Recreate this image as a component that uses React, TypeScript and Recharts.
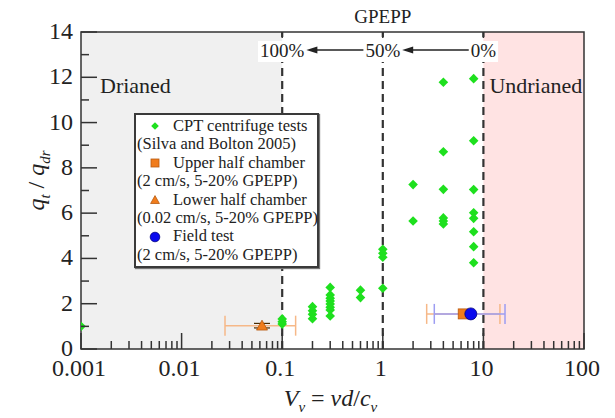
import React from 'react';
import {
  ScatterChart, Scatter, XAxis, YAxis, ReferenceArea, ReferenceLine, ErrorBar, Legend
} from 'recharts';

const FONT = '"Liberation Serif", "Times New Roman", serif';
const INK = '#222';

// axes
const xMajorTicks = [0.001, 0.01, 0.1, 1, 10, 100];
const xTickLabels = ['0.001', '0.01', '0.1', '1', '10', '100'];
const xMinorSteps = [2, 3, 4, 5, 6, 7, 8, 9];
const yTicks = [0, 1, 2, 3, 4, 5, 6, 7, 8, 9, 10, 11, 12, 13, 14];

// GPEPP scale on top
const gpeppTicks = [0.1, 1, 10];
const gpeppLabels = ['100%', '50%', '0%'];

// CPT centrifuge tests (Silva and Bolton 2005)
const cptV = [
  0.001,
  0.1, 0.1, 0.1,
  0.2, 0.2, 0.2, 0.2,
  0.3, 0.3, 0.3, 0.3, 0.3, 0.3, 0.3, 0.3,
  0.6, 0.6,
  1, 1, 1, 1,
  2, 2,
  4, 4, 4, 4, 4, 4,
  8, 8, 8, 8, 8, 8, 8, 8,
];
const cptQ = [
  1.0,
  1.1, 1.2, 1.33,
  1.87, 1.69, 1.53, 1.34,
  2.72, 2.39, 2.24, 2.12, 1.99, 1.84, 1.72, 1.46,
  2.6, 2.27,
  4.4, 4.23, 4.05, 2.68,
  7.26, 5.65,
  11.78, 8.71, 7.05, 5.79, 5.65, 5.52,
  11.94, 9.2, 7.04, 6.02, 5.77, 5.18, 4.52, 3.81,
];

// chamber and field tests: value, q, x-range
const upperV = [6.3];
const upperQ = [1.55];
const upperRange = [[2.73, 14.6]];

const lowerV = [0.063];
const lowerQ = [1.03];
const lowerRange = [[0.027, 0.136]];
const lowerQErr = [0.1];

const fieldV = [7.5];
const fieldQ = [1.55];
const fieldRange = [[3.25, 16.4]];

const legendNames = ['CPT centrifuge tests', 'Upper half chamber', 'Lower half chamber', 'Field test'];
const legendNotes = ['(Silva and Bolton 2005)', '(2 cm/s, 5-20% GPEPP)', '(0.02 cm/s, 5-20% GPEPP)', '(2 cm/s, 5-20% GPEPP)'];
const legendKinds = ['diamond', 'square', 'triangle', 'circle'];

const GREEN = '#1ee01e';
const ORANGE = '#f07c1c';
const BLUE = '#0a0aee';

const cptData = cptV.map((v, i) => ({ v, q: cptQ[i] }));
const upperData = upperV.map((v, i) => ({ v, q: upperQ[i], err: [v - upperRange[i][0], upperRange[i][1] - v] }));
const lowerData = lowerV.map((v, i) => ({
  v, q: lowerQ[i], err: [v - lowerRange[i][0], lowerRange[i][1] - v], qErr: lowerQErr[i],
}));
const fieldData = fieldV.map((v, i) => ({ v, q: fieldQ[i], err: [v - fieldRange[i][0], fieldRange[i][1] - v] }));

const xTicks = xMajorTicks.slice(0, -1)
  .flatMap((d) => [d, ...xMinorSteps.map((m) => m * d)])
  .concat(xMajorTicks[xMajorTicks.length - 1]);

const Marker = ({ kind, cx, cy, s = 1 }: any) => {
  if (kind === 'diamond') {
    const r = 4.8 * s;
    return <polygon points={`${cx},${cy - r} ${cx + r},${cy} ${cx},${cy + r} ${cx - r},${cy}`} fill={GREEN} />;
  }
  if (kind === 'square') {
    const h = 5 * s;
    return <rect x={cx - h} y={cy - h} width={2 * h} height={2 * h} fill={ORANGE} stroke="#b85a10" strokeWidth={0.8} />;
  }
  if (kind === 'triangle') {
    const h = 5.5 * s;
    return <polygon points={`${cx},${cy - h} ${cx + h},${cy + h * 0.8} ${cx - h},${cy + h * 0.8}`} fill={ORANGE} stroke="#b85a10" strokeWidth={0.8} />;
  }
  return <circle cx={cx} cy={cy} r={6 * s} fill={BLUE} stroke="#000080" strokeWidth={0.8} />;
};

const XTick = ({ x, y, payload }: any) => {
  const idx = xMajorTicks.indexOf(payload.value);
  const major = idx >= 0;
  return (
    <g>
      <line x1={x} y1={y} x2={x} y2={y - (major ? 16 : 8)} stroke="#333" strokeWidth={1.5} />
      {major && (
        <text x={x - 2} y={y + 27} textAnchor="middle" fontSize={24} fill={INK} fontFamily={FONT}>
          {xTickLabels[idx]}
        </text>
      )}
    </g>
  );
};

const YTick = ({ x, y, payload }: any) => {
  const major = payload.value % 2 === 0;
  return (
    <g>
      <line x1={x} y1={y} x2={x + (major ? 16 : 8)} y2={y} stroke="#333" strokeWidth={1.5} />
      {major && (
        <text x={x - 8} y={y + 7} textAnchor="end" fontSize={24} fill={INK} fontFamily={FONT}>
          {payload.value}
        </text>
      )}
    </g>
  );
};

const labelWidth = (s: string) => s.replace('%', '').length * 9.5 + 15.8;

// top GPEPP tick, label and title drawn on each dashed line
const gpeppMark = (idx: number) => ({ viewBox }: any) => {
  const x = viewBox.x;
  const y = viewBox.y;
  const label = gpeppLabels[idx];
  const w = labelWidth(label);
  return (
    <g>
      <line x1={x} y1={y} x2={x} y2={y + 6} stroke="#333" strokeWidth={1.5} />
      <rect x={x - w / 2 - 2} y={y + 9} width={w + 4} height={21} fill="#fff" />
      <text x={x} y={y + 25} textAnchor="middle" fontSize={19} fill={INK} fontFamily={FONT}>{label}</text>
      {idx === 1 && (
        <text x={x} y={y - 9} textAnchor="middle" fontSize={19} fill={INK} fontFamily={FONT}>GPEPP</text>
      )}
    </g>
  );
};

// arrow between two GPEPP labels, trimmed to the label edges
const makeArrow = (fromLabel: string, toLabel: string) => (props: any) => {
  const { x1, y1, x2 } = props;
  const yy = y1 + 18;
  const start = x1 - labelWidth(fromLabel) / 2 - 2;
  const tip = x2 + labelWidth(toLabel) / 2 + 2;
  return (
    <g>
      <line x1={start} y1={yy} x2={tip + 9} y2={yy} stroke={INK} strokeWidth={1.3} />
      <polygon points={`${tip},${yy} ${tip + 11},${yy - 3.5} ${tip + 11},${yy + 3.5}`} fill={INK} />
    </g>
  );
};

const regionLabel = (text: string, dx: number) => ({ viewBox }: any) => (
  <text x={viewBox.x + dx} y={viewBox.y + 61} fontSize={22} fill={INK} fontFamily={FONT}>{text}</text>
);

const XLabel = ({ viewBox }: any) => (
  <text x={viewBox.x + viewBox.width / 2 - 2} y={viewBox.y + 57} textAnchor="middle" fontSize={24} fill={INK} fontFamily={FONT}>
    <tspan fontStyle="italic">V</tspan>
    <tspan fontStyle="italic" fontSize={15} dy={6}>v</tspan>
    <tspan dy={-6}> = </tspan>
    <tspan fontStyle="italic">vd</tspan>
    <tspan>/</tspan>
    <tspan fontStyle="italic">c</tspan>
    <tspan fontStyle="italic" fontSize={15} dy={6}>v</tspan>
  </text>
);

const YLabel = ({ viewBox }: any) => (
  <text
    transform={`translate(${viewBox.x + 23}, ${viewBox.y + viewBox.height / 2 - 10}) rotate(-90)`}
    textAnchor="middle" fontSize={24} fill={INK} fontFamily={FONT}
  >
    <tspan fontStyle="italic">q</tspan>
    <tspan fontStyle="italic" fontSize={15} dy={6}>t</tspan>
    <tspan dy={-6}> / </tspan>
    <tspan fontStyle="italic">q</tspan>
    <tspan fontStyle="italic" fontSize={15} dy={6}>dr</tspan>
  </text>
);

const LegendBox = () => (
  <div
    style={{
      border: '2px solid #3a3a3a', boxShadow: '1px 1px 1px #777', background: '#fff',
      fontFamily: FONT, fontSize: 16.5, lineHeight: '18.4px', color: INK,
      padding: '2px 2px 2px 1px', whiteSpace: 'nowrap', width: 185, minWidth: 185, boxSizing: 'border-box',
    }}
  >
    {legendNames.map((name, i) => (
      <div key={name}>
        <div style={{ display: 'flex', alignItems: 'center' }}>
          <svg width={36} height={18} style={{ flex: 'none' }}>
            <Marker kind={legendKinds[i]} cx={18} cy={9} s={0.8} />
          </svg>
          <span>{name}</span>
        </div>
        <div>{legendNotes[i]}</div>
      </div>
    ))}
  </div>
);

export default function App() {
  return (
    <div style={{ margin: '-8px 0 0 -8px', width: 615, height: 418 }}>
      <ScatterChart
        width={615}
        height={418}
        margin={{ top: 32, right: 31, bottom: 19, left: 21 }}
        style={{ fontFamily: FONT }}
      >
        <ReferenceArea x1={0.001} x2={0.1} y1={0} y2={14} fill="#f0f0f0" fillOpacity={1} stroke="none"
          label={{ content: regionLabel('Drianed', 19) }} />
        <ReferenceArea x1={10} x2={100} y1={0} y2={14} fill="#ffe3e3" fillOpacity={1} stroke="none"
          label={{ content: regionLabel('Undrianed', 6) }} />
        {gpeppTicks.map((t, i) => (
          <ReferenceLine key={t} x={t} stroke="#333" strokeWidth={2.2} strokeDasharray="8 5"
            label={{ content: gpeppMark(i) }} />
        ))}
        <ReferenceArea x1={0.001} x2={100} y1={0} y2={14} fill="none" stroke="#333" strokeWidth={1.5} />
        <XAxis
          dataKey="v" type="number" scale="log" domain={[0.001, 100]} ticks={xTicks} interval={0}
          allowDataOverflow height={50} axisLine={false} tickLine={false} tickSize={0} tickMargin={0}
          tick={<XTick />} label={{ content: XLabel }}
        />
        <YAxis
          dataKey="q" type="number" domain={[0, 14]} ticks={yTicks} interval={0} allowDataOverflow
          width={60} axisLine={false} tickLine={false} tickSize={0} tickMargin={0}
          tick={<YTick />} label={{ content: YLabel }}
        />
        {gpeppTicks.slice(1).map((t, i) => (
          <ReferenceLine
            key={`arrow-${t}`}
            segment={[{ x: t, y: 14 }, { x: gpeppTicks[i], y: 14 }]}
            shape={makeArrow(gpeppLabels[i + 1], gpeppLabels[i])}
          />
        ))}
        <Scatter name={legendNames[0]} data={cptData} isAnimationActive={false}
          shape={(p: any) => <Marker kind="diamond" cx={p.cx} cy={p.cy} />} />
        <Scatter name={legendNames[1]} data={upperData} isAnimationActive={false}
          shape={(p: any) => <Marker kind="square" cx={p.cx} cy={p.cy} />}>
          <ErrorBar dataKey="err" direction="x" width={10} stroke="#f6b888" strokeWidth={1.5} />
        </Scatter>
        <Scatter name={legendNames[2]} data={lowerData} isAnimationActive={false}
          shape={(p: any) => <Marker kind="triangle" cx={p.cx} cy={p.cy} />}>
          <ErrorBar dataKey="err" direction="x" width={10} stroke="#f6b888" strokeWidth={1.5} />
          <ErrorBar dataKey="qErr" direction="y" width={8} stroke="#4a2a00" strokeWidth={1.2} />
        </Scatter>
        <Scatter name={legendNames[3]} data={fieldData} isAnimationActive={false}
          shape={(p: any) => <Marker kind="circle" cx={p.cx} cy={p.cy} />}>
          <ErrorBar dataKey="err" direction="x" width={10} stroke="#9d9df2" strokeWidth={1.5} />
        </Scatter>
        <Legend
          layout="vertical" align="center" verticalAlign="middle"
          wrapperStyle={{ left: 134, top: 113, width: 185, height: 'auto' }}
          content={<LegendBox />}
        />
      </ScatterChart>
    </div>
  );
}
